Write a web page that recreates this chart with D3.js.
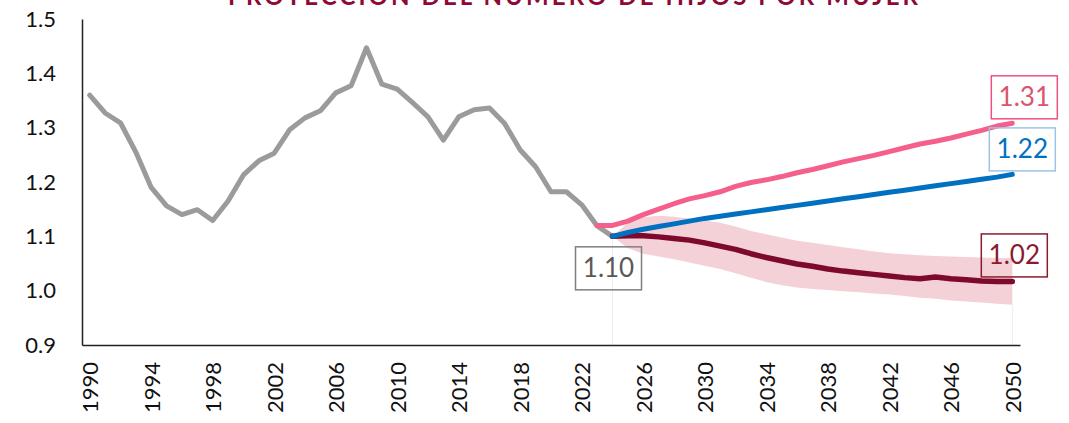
<!DOCTYPE html>
<html><head><meta charset="utf-8">
<script src="https://cdn.jsdelivr.net/npm/d3@7"></script>
<style>body{margin:0;background:#fff}svg{display:block}</style>
</head><body>
<svg id="c" width="1069" height="423"></svg>
<script>
const title = "PROYECCIÓN DEL NÚMERO DE HIJOS POR MUJER";
const years = d3.range(1990, 2051);
const yTicks = [0.9, 1.0, 1.1, 1.2, 1.3, 1.4, 1.5];
const xTickYears = d3.range(1990, 2051, 4);
const histYears = d3.range(1990, 2025);
const histValues = [1.360,1.327,1.309,1.255,1.190,1.156,1.140,1.149,1.129,1.165,1.213,1.239,1.253,1.296,1.318,1.331,1.364,1.377,1.447,1.380,1.371,1.346,1.320,1.277,1.320,1.333,1.336,1.307,1.259,1.228,1.182,1.182,1.158,1.119,1.100];
const highYears = d3.range(2023, 2051);
const highValues = [1.120,1.120,1.128,1.140,1.150,1.160,1.169,1.175,1.182,1.192,1.199,1.204,1.210,1.217,1.223,1.230,1.237,1.243,1.249,1.256,1.263,1.270,1.275,1.281,1.288,1.295,1.303,1.308];
const projYears = d3.range(2024, 2051);
const midValues = [1.100,1.107,1.113,1.118,1.123,1.128,1.133,1.137,1.141,1.145,1.149,1.153,1.157,1.161,1.165,1.169,1.173,1.177,1.181,1.185,1.189,1.193,1.197,1.201,1.205,1.209,1.214];
const lowValues = [1.100,1.101,1.101,1.099,1.096,1.093,1.088,1.082,1.076,1.068,1.061,1.055,1.049,1.045,1.040,1.036,1.033,1.030,1.027,1.024,1.022,1.025,1.022,1.020,1.018,1.017,1.017];
const bandUpper = [1.100,1.125,1.135,1.138,1.136,1.133,1.129,1.125,1.118,1.110,1.104,1.098,1.092,1.088,1.084,1.080,1.076,1.072,1.069,1.067,1.065,1.064,1.063,1.062,1.061,1.060,1.060];
const bandLower = [1.100,1.078,1.068,1.063,1.058,1.052,1.046,1.040,1.032,1.024,1.016,1.010,1.006,1.003,1.001,0.999,0.997,0.995,0.993,0.990,0.987,0.985,0.982,0.980,0.978,0.976,0.974];
const labels = [
  {text:"1.10", year:2024, value:1.10, dx:-4, dy:32, color:"#595959", border:"#7f7f7f"},
  {text:"1.31", year:2050, value:1.308, dx:12, dy:-26, color:"#d8566f", border:"#f0507e"},
  {text:"1.22", year:2050, value:1.214, dx:10, dy:-25, color:"#0070c0", border:"#9dc3e6"},
  {text:"1.02", year:2050, value:1.017, dx:2, dy:-26, color:"#8b1a2f", border:"#8b1a2f"}
];

const svg = d3.select("#c");
const font = "'Gill Sans','Gill Sans MT',Lato,sans-serif";
const x = d3.scalePoint().domain(years).range([82, 1020]).padding(0.5);
const y = d3.scaleLinear().domain([0.9, 1.5]).range([345, 19]);

// title (mostly cut off at top)
svg.append("text").attr("x", 573).attr("y", 5).attr("text-anchor", "middle")
  .attr("font-family", font).attr("font-weight", "bold").attr("font-size", 24)
  .attr("fill", "#8b0a36").attr("textLength", 690).attr("lengthAdjust", "spacing").text(title);

// band
const band = projYears.map((yr, i) => ({yr, lo: bandLower[i], hi: bandUpper[i]}));
svg.append("path").datum(band)
  .attr("d", d3.area().x(d => x(d.yr)).y0(d => y(d.lo)).y1(d => y(d.hi)))
  .attr("fill", "#f3d1d7");
// faint drop lines
[2024, 2050].forEach(yr => {
  const i = projYears.indexOf(yr);
  svg.append("line").attr("x1", x(yr)).attr("x2", x(yr)).attr("y1", y(bandLower[i])).attr("y2", y(0.9))
    .attr("stroke", "#ededed").attr("stroke-width", 1);
});

// axes
const yAxis = d3.axisLeft(y).tickValues(yTicks).tickFormat(d3.format(".1f")).tickSize(0).tickPadding(26);
const gy = svg.append("g").attr("transform", "translate(82,0)").call(yAxis);
gy.select(".domain").attr("stroke", "#222").attr("stroke-width", 1.5);
gy.selectAll("text").attr("font-family", font).attr("font-size", 22).attr("fill", "#111");

const xAxis = d3.axisBottom(x).tickValues(xTickYears).tickSize(0).tickPadding(0);
const gx = svg.append("g").attr("transform", "translate(0,345)").call(xAxis);
gx.select(".domain").attr("stroke", "#222").attr("stroke-width", 1.5);
gx.selectAll("text").attr("font-family", font).attr("font-size", 22).attr("fill", "#111")
  .attr("text-anchor", "end").attr("dy", null).attr("y", 0)
  .attr("transform", "translate(8,17) rotate(-90)");

const line = d3.line().x(d => x(d[0])).y(d => y(d[1]));
function draw(ys, vs, color, w) {
  svg.append("path").datum(ys.map((yr, i) => [yr, vs[i]]))
    .attr("d", line).attr("fill", "none").attr("stroke", color)
    .attr("stroke-width", w).attr("stroke-linejoin", "round").attr("stroke-linecap", "round");
}
draw(histYears, histValues, "#9b9b9b", 5);
draw(projYears, lowValues, "#7d0a2c", 5.5);
draw(projYears, midValues, "#0070c0", 5);
draw(highYears, highValues, "#f4608b", 5);

// value labels
labels.forEach(l => {
  const cx = x(l.year) + l.dx, cy = y(l.value) + l.dy;
  const w = 66, h = 43;
  svg.append("rect").attr("x", cx - w / 2).attr("y", cy - h / 2).attr("width", w).attr("height", h)
    .attr("fill", "none").attr("stroke", l.border).attr("stroke-width", 1.5);
  svg.append("text").attr("x", cx).attr("y", cy + 9).attr("text-anchor", "middle")
    .attr("font-family", font).attr("font-size", 26).attr("fill", l.color).text(l.text);
});
</script>
</body></html>
